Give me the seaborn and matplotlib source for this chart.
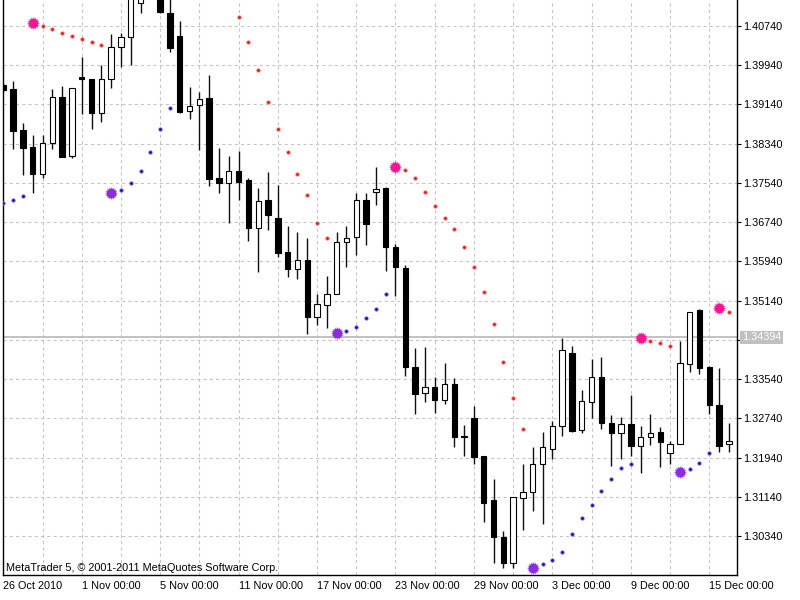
import numpy as np
import pandas as pd
import matplotlib
matplotlib.use("Agg")
import matplotlib.pyplot as plt
import seaborn as sns

nan = np.nan

# EURUSD H12 bars, 26 Oct - 15 Dec 2010
opens = [1.39537, 1.39449, 1.38619, 1.38279, 1.37722, 1.38348, 1.39286, 1.38095, 1.39706, 1.39665,
         1.38960, 1.39653, 1.40306, 1.40509, 1.41215, 1.41350, 1.41372, 1.41011, 1.40542, 1.39007,
         1.39129, 1.39266, 1.37634, 1.37533, 1.37789, 1.37600, 1.36615, 1.37192, 1.36819, 1.36138,
         1.35779, 1.35969, 1.34800, 1.35051, 1.35275, 1.36329, 1.36431, 1.37192, 1.37349, 1.37431,
         1.36240, 1.35812, 1.33793, 1.33251, 1.33373, 1.33114, 1.33440, 1.32380, 1.32741, 1.31972,
         1.31075, 1.30327, 1.29797, 1.31122, 1.31244, 1.31809, 1.32109, 1.32584, 1.34066, 1.32502,
         1.33079, 1.33589, 1.32639, 1.32435, 1.32619, 1.32182, 1.32366, 1.32468, 1.32039, 1.32217,
         1.33842, 1.34949, 1.33793, 1.33012, 1.32217]
highs = [1.39578, 1.39618, 1.38768, 1.38517, 1.38517, 1.39449, 1.39516, 1.39470, 1.40114, 1.39665,
         1.39939, 1.40571, 1.40591, 1.41433, 1.41392, 1.41600, 1.41450, 1.41311, 1.40842, 1.39490,
         1.39400, 1.39741, 1.38246, 1.38095, 1.38191, 1.37641, 1.37443, 1.37769, 1.37498, 1.36668,
         1.36546, 1.36411, 1.35269, 1.35642, 1.36546, 1.36662, 1.37329, 1.37329, 1.37871, 1.37463,
         1.36289, 1.35867, 1.34168, 1.34201, 1.33589, 1.33862, 1.33556, 1.32604, 1.32992, 1.31972,
         1.31497, 1.30449, 1.31130, 1.31809, 1.32162, 1.32468, 1.32686, 1.34372, 1.34221, 1.33318,
         1.33944, 1.33997, 1.32808, 1.32774, 1.33216, 1.32584, 1.32822, 1.32570, 1.32278, 1.34317,
         1.34914, 1.34970, 1.33807, 1.33760, 1.32639]
lows = [1.39394, 1.38226, 1.37702, 1.37329, 1.37634, 1.38226, 1.38063, 1.38042, 1.38946, 1.38634,
        1.38789, 1.39470, 1.39910, 1.39945, 1.40999, 1.41290, 1.41011, 1.40216, 1.38972, 1.38844,
        1.38211, 1.37477, 1.37329, 1.36723, 1.37192, 1.36362, 1.35730, 1.36580, 1.36036, 1.35628,
        1.35575, 1.34460, 1.34643, 1.34576, 1.35275, 1.35820, 1.36071, 1.36274, 1.37090, 1.35750,
        1.35235, 1.33603, 1.32829, 1.33079, 1.32855, 1.33032, 1.32150, 1.31978, 1.31809, 1.30633,
        1.29797, 1.29682, 1.29682, 1.30463, 1.30857, 1.30586, 1.31905, 1.32380, 1.32470, 1.32435,
        1.32741, 1.32517, 1.31768, 1.31905, 1.31972, 1.31632, 1.32196, 1.31754, 1.31809, 1.32217,
        1.33691, 1.33638, 1.32829, 1.32060, 1.32060]
closes = [1.39435, 1.38599, 1.38246, 1.37722, 1.38360, 1.39286, 1.38075, 1.39470, 1.39653, 1.38972,
          1.39665, 1.40306, 1.40509, 1.41331, 1.41311, 1.41500, 1.41019, 1.40297, 1.38992, 1.39109,
          1.39257, 1.37620, 1.37533, 1.37789, 1.37565, 1.36615, 1.37178, 1.36886, 1.36117, 1.35779,
          1.35969, 1.34800, 1.35065, 1.35275, 1.36342, 1.36411, 1.37192, 1.36703, 1.37416, 1.36228,
          1.35820, 1.33781, 1.33236, 1.33373, 1.33114, 1.33440, 1.32354, 1.32359, 1.31958, 1.31020,
          1.30314, 1.29784, 1.31130, 1.31238, 1.31809, 1.32150, 1.32584, 1.34133, 1.32488, 1.33094,
          1.33589, 1.32639, 1.32435, 1.32619, 1.32182, 1.32366, 1.32447, 1.32251, 1.32217, 1.33862,
          1.34914, 1.33773, 1.33012, 1.32176, 1.32284]

# Parabolic SAR: above price (downtrend) and below price (uptrend)
sar_above = [nan, nan, nan, 1.40795, 1.40746, 1.40673, 1.40591, 1.40542, 1.40469, 1.40414,
             1.40346, nan, nan, nan, nan, nan, nan, nan, nan, nan,
             nan, nan, nan, nan, 1.40917, 1.40414, 1.39837, 1.39196, 1.38646, 1.38171,
             1.37722, 1.37294, 1.36717, 1.36423, nan, nan, nan, nan, nan, nan,
             1.37871, 1.37798, 1.37647, 1.37345, 1.37070, 1.36819, 1.36595, 1.36240, 1.35820, 1.35322,
             1.34670, 1.33895, 1.33149, 1.32523, nan, nan, nan, nan, nan, nan,
             nan, nan, nan, nan, nan, 1.34372, 1.34323, 1.34270, 1.34221, nan,
             nan, nan, nan, 1.34984, 1.34914]
sar_below = [1.37131, 1.37202, 1.37274, nan, nan, nan, nan, nan, nan, nan,
             nan, 1.37341, 1.37396, 1.37545, 1.37789, 1.38165, 1.38640, 1.39074, nan, nan,
             nan, nan, nan, nan, nan, nan, nan, nan, nan, nan,
             nan, nan, nan, nan, 1.34474, 1.34527, 1.34609, 1.34780, 1.34976, 1.35269,
             nan, nan, nan, nan, nan, nan, nan, nan, nan, nan,
             nan, nan, nan, nan, 1.29695, 1.29764, 1.29852, 1.30021, 1.30376, 1.30708,
             1.30973, 1.31259, 1.31497, 1.31721, 1.31803, nan, nan, nan, nan, 1.31652,
             1.31701, 1.31823, 1.32027, nan, nan]
reversal_bars = [3, 11, 34, 40, 54, 65, 69, 73]

date_labels = ["26 Oct 2010", "1 Nov 00:00", "5 Nov 00:00", "11 Nov 00:00", "17 Nov 00:00",
               "23 Nov 00:00", "29 Nov 00:00", "3 Dec 00:00", "9 Dec 00:00", "15 Dec 00:00"]
price_ticks = [1.30340, 1.31140, 1.31940, 1.32740, 1.33540, 1.34340, 1.35140,
               1.35940, 1.36740, 1.37540, 1.38340, 1.39140, 1.39940, 1.40740]
last_price = 1.34394
watermark = "MetaTrader 5, \u00a9 2001-2011 MetaQuotes Software Corp."

sns.set_style("white")
plt.rcParams["font.family"] = ["Liberation Sans", "DejaVu Sans"]
plt.rcParams["font.size"] = 7.8

df = pd.DataFrame({"open": opens, "high": highs, "low": lows, "close": closes,
                   "sar_above": sar_above, "sar_below": sar_below})
df["bar"] = np.arange(len(df))
df["rev"] = df["bar"].isin(reversal_bars)

fig = plt.figure(figsize=(8, 6), dpi=100)
ax = fig.add_axes([0.0041, 0.04167, 0.9168, 0.95833])

# grid
grid_kw = dict(color="#c4c4c4", lw=0.75, ls=(0, (3, 3)), zorder=0)
for x in range(0, len(df), 4):
    ax.axvline(x, **grid_kw)
for y in price_ticks:
    ax.axhline(y, **grid_kw)

# current price line
ax.axhline(last_price, color="#bdbdbd", lw=1.3, zorder=1)

# candles
ax.vlines(df["bar"], df["low"], df["high"], color="#111111", lw=1.0, zorder=2)
up = df["close"] >= df["open"]
body_lo = df[["open", "close"]].min(axis=1)
body_h = (df["close"] - df["open"]).abs().clip(lower=0.00002)
ax.bar(df["bar"][up], body_h[up], bottom=body_lo[up], width=0.55,
       color="white", edgecolor="black", lw=0.8, zorder=3)
ax.bar(df["bar"][~up], body_h[~up], bottom=body_lo[~up], width=0.55,
       color="black", edgecolor="black", lw=0.8, zorder=3)

# SAR dots
small = df[~df["rev"]]
sns.scatterplot(x=small["bar"], y=small["sar_above"], color="#ff1a1a", s=7,
                edgecolor="#ff9a9a", linewidth=0.4, ax=ax, zorder=4)
sns.scatterplot(x=small["bar"], y=small["sar_below"], color="#1a1acc", s=7,
                edgecolor="#8c8cff", linewidth=0.4, ax=ax, zorder=4)
rev = df[df["rev"]]
for col, c in [("sar_above", "#ff1493"), ("sar_below", "#8b2be2")]:
    sns.scatterplot(x=rev["bar"], y=rev[col], color=c, s=50, marker="o",
                    linewidth=0, ax=ax, zorder=5)
    sns.scatterplot(x=rev["bar"], y=rev[col], color=c, s=95, marker=(16, 1, 0),
                    linewidth=0, ax=ax, zorder=5)

ax.set_xlim(0, 74.8)
ax.set_ylim(1.29546, 1.41270)
ax.set_xlabel("")
ax.set_ylabel("")

ax.set_xticks(np.arange(0, 8 * len(date_labels), 8))
ax.set_xticklabels(date_labels, ha="left")
ax.yaxis.tick_right()
ax.set_yticks(price_ticks)
# the 1.34340 label sits under the current-price box
ax.set_yticklabels(["" if abs(p - last_price) < 0.002 else f"{p:.5f}" for p in price_ticks])
ax.tick_params(axis="x", direction="out", length=3.5, width=0.8, pad=1, colors="black")
ax.tick_params(axis="y", direction="out", length=3.2, width=0.8, pad=1.5, colors="black")

for side in ["left", "bottom", "right"]:
    ax.spines[side].set_color("black")
    ax.spines[side].set_linewidth(1.0)
ax.spines["top"].set_visible(False)

ax.annotate(f"{last_price:.5f}", xy=(1.0, last_price), xycoords=("axes fraction", "data"),
            xytext=(3.8, 0), textcoords="offset points", ha="left", va="center",
            color="white", bbox=dict(boxstyle="square,pad=0.15", fc="#c0c0c0", ec="none"))

ax.text(0.004, 0.004, watermark, transform=ax.transAxes, ha="left", va="bottom",
        color="black", zorder=6)

fig.savefig("out.png", dpi=100)
